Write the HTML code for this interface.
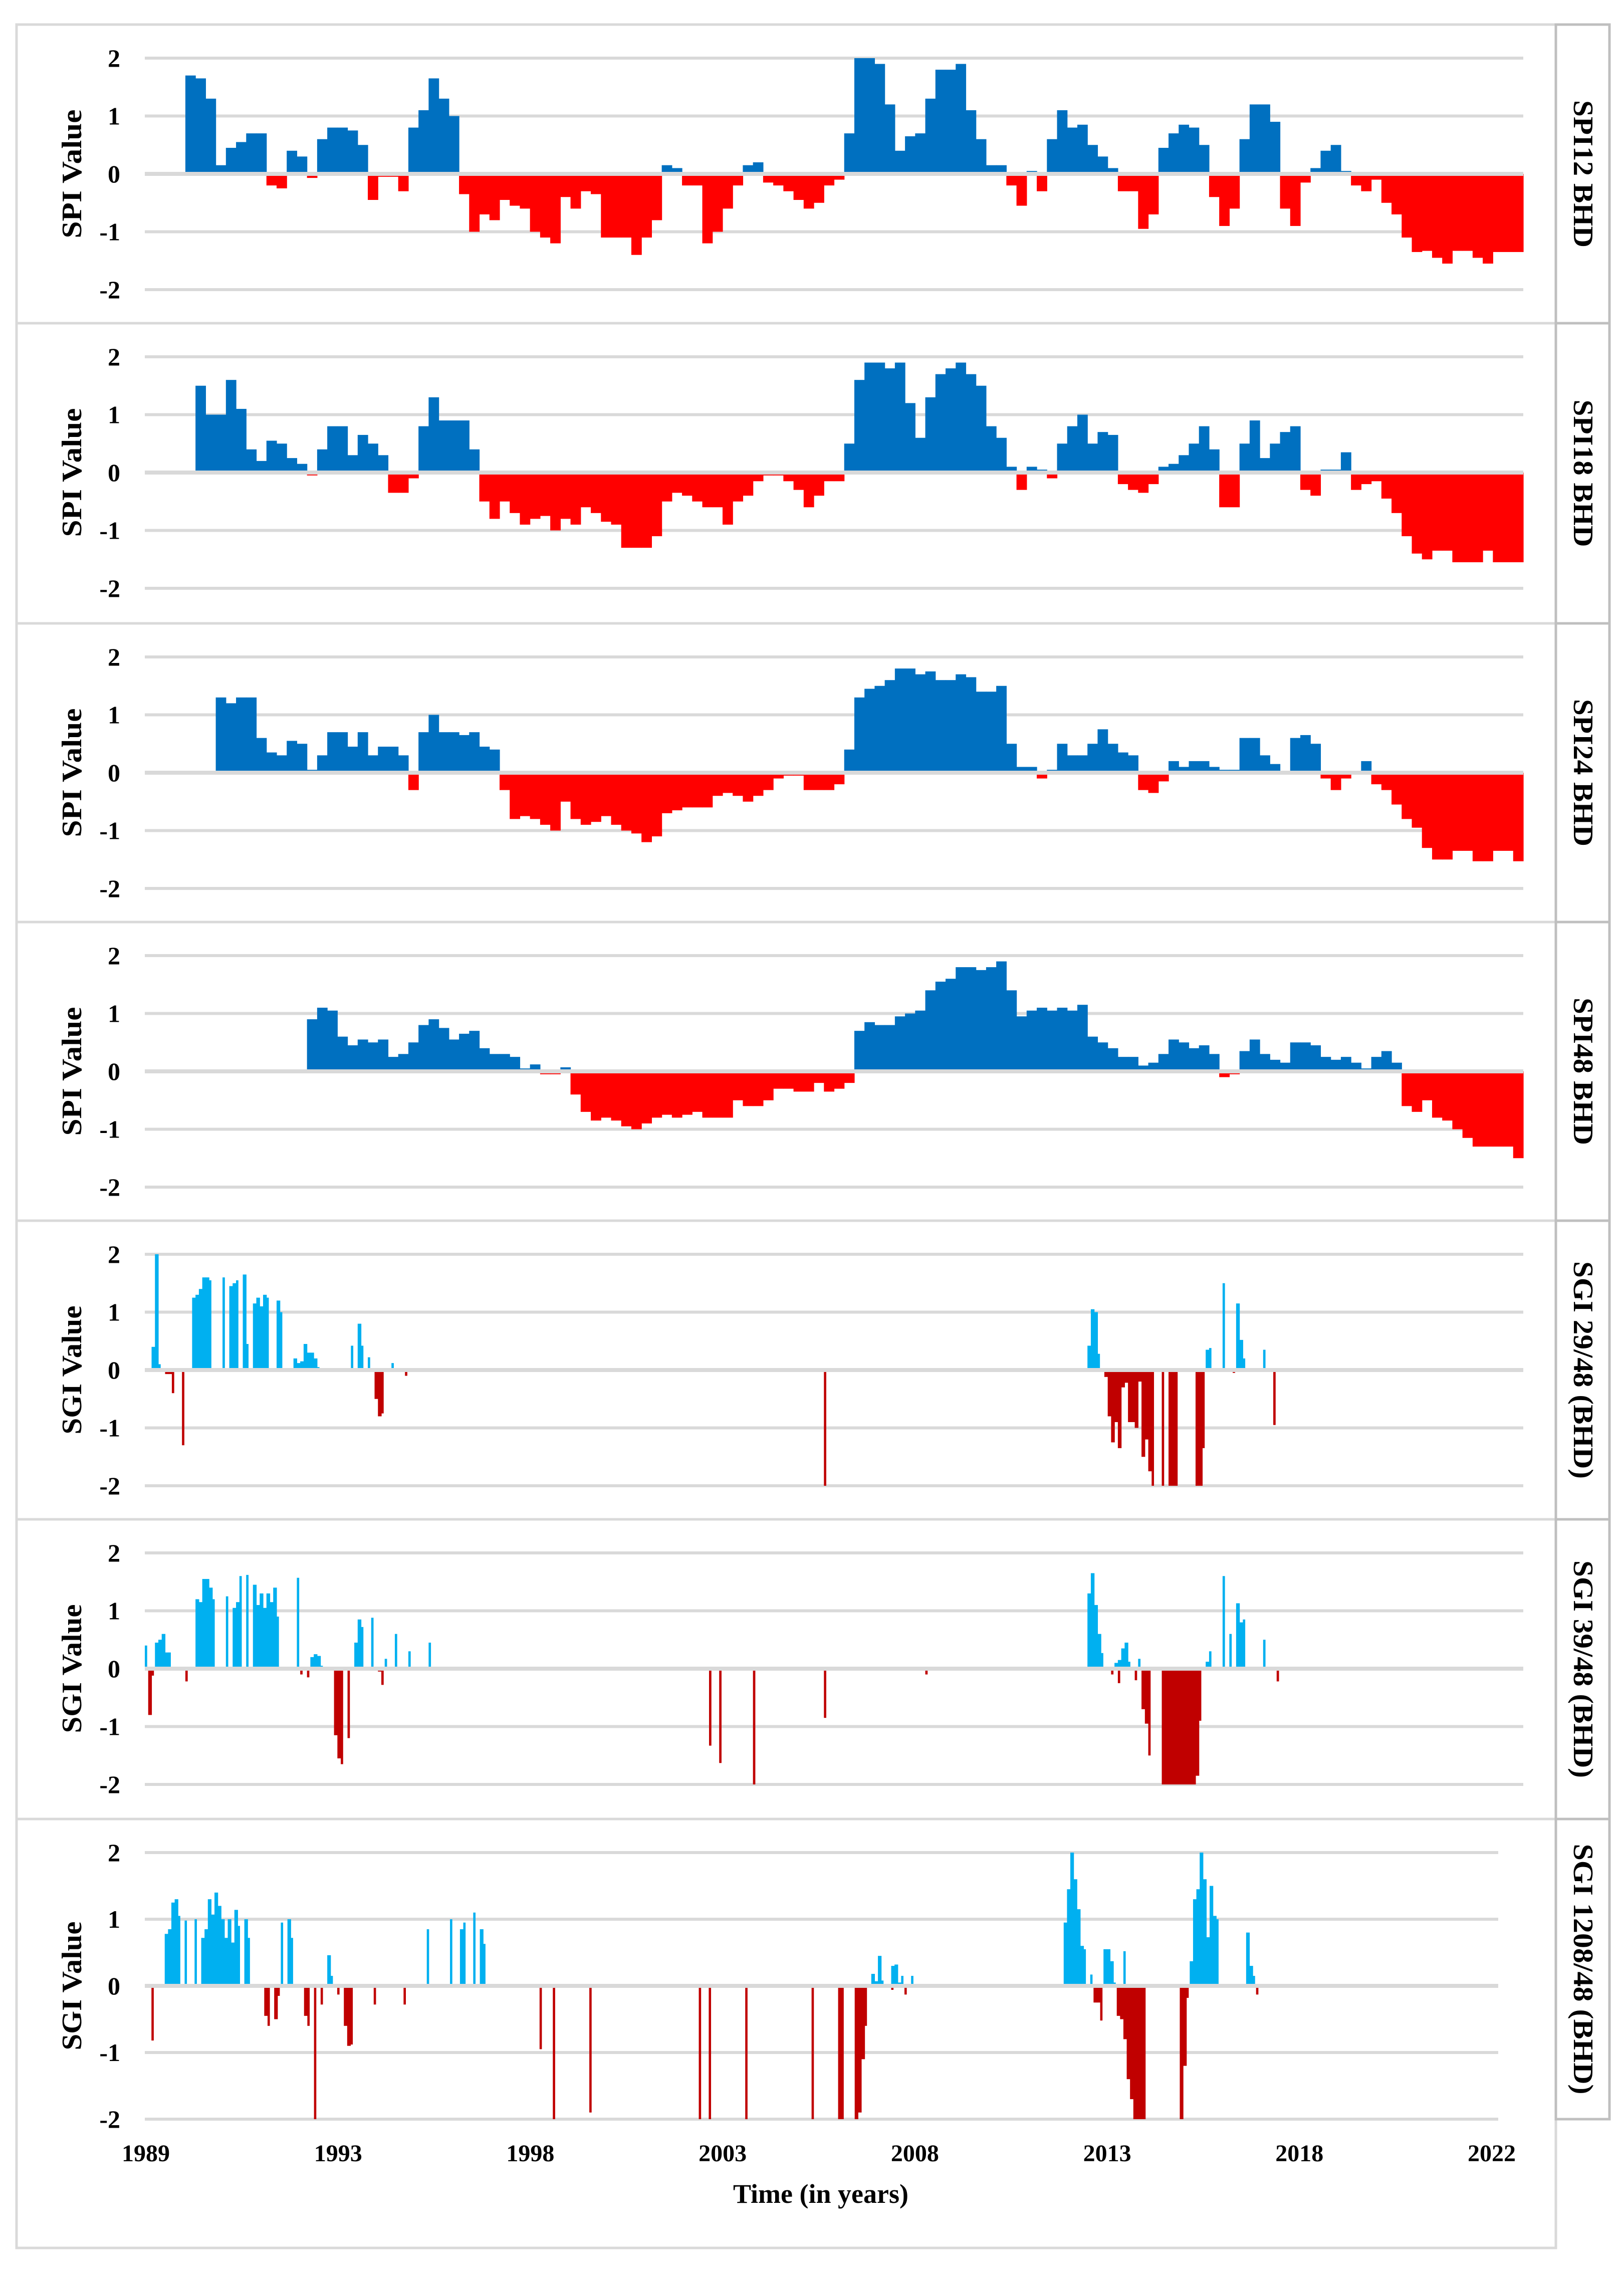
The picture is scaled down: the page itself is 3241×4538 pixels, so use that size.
<!DOCTYPE html>
<html><head><meta charset="utf-8"><title>SPI / SGI time series</title>
<style>
html,body{margin:0;padding:0;background:#fff;}
svg{display:block;}
text{font-family:"Liberation Serif","DejaVu Serif",serif;font-weight:bold;fill:#000;}
</style></head>
<body>
<svg id="chart" xmlns="http://www.w3.org/2000/svg" width="3241" height="4538" viewBox="0 0 3241 4538"></svg>
<script>
// ---- data ----
const xTickLabels = ["1989","1993","1998","2003","2008","2013","2018","2022"];
const yTicks = [2,1,0,-1,-2];
const panelLabels = ["SPI12 BHD","SPI18 BHD","SPI24 BHD","SPI48 BHD","SGI 29/48 (BHD)","SGI 39/48 (BHD)","SGI 1208/48 (BHD)"];
const yTitles = ["SPI Value","SPI Value","SPI Value","SPI Value","SGI Value","SGI Value","SGI Value"];
// SPI: quarterly values 1989Q1..2022Q4 (136)
const spi12 = [0,0,0,0,1.7,1.65,1.3,0.15,0.45,0.55,0.7,0.7,-0.2,-0.25,0.4,0.3,-0.07,0.6,0.8,0.8,0.75,0.5,-0.45,-0.05,-0.05,-0.3,0.8,1.1,1.65,1.3,1.0,-0.35,-1.0,-0.7,-0.8,-0.45,-0.55,-0.6,-1.0,-1.1,-1.2,-0.4,-0.6,-0.3,-0.35,-1.1,-1.1,-1.1,-1.4,-1.1,-0.8,0.15,0.1,-0.2,-0.2,-1.2,-1.0,-0.6,-0.2,0.15,0.2,-0.15,-0.2,-0.3,-0.45,-0.6,-0.5,-0.2,-0.1,0.7,2.0,2.0,1.9,1.2,0.4,0.65,0.7,1.3,1.8,1.8,1.9,1.1,0.6,0.15,0.15,-0.2,-0.55,0.05,-0.3,0.6,1.1,0.8,0.85,0.5,0.3,0.1,-0.3,-0.3,-0.95,-0.7,0.45,0.7,0.85,0.8,0.5,-0.4,-0.9,-0.6,0.6,1.2,1.2,0.9,-0.6,-0.9,-0.15,0.1,0.4,0.5,0.05,-0.2,-0.3,-0.1,-0.5,-0.7,-1.1,-1.35,-1.33,-1.45,-1.55,-1.33,-1.33,-1.45,-1.55,-1.35,-1.35,-1.35];
const spi18 = [0,0,0,0,0,1.5,1.0,1.0,1.6,1.1,0.4,0.2,0.55,0.5,0.25,0.15,-0.05,0.4,0.8,0.8,0.3,0.65,0.5,0.3,-0.35,-0.35,-0.1,0.8,1.3,0.9,0.9,0.9,0.4,-0.5,-0.8,-0.5,-0.7,-0.9,-0.8,-0.75,-1.0,-0.8,-0.9,-0.6,-0.7,-0.85,-0.9,-1.3,-1.3,-1.3,-1.1,-0.5,-0.35,-0.4,-0.5,-0.6,-0.6,-0.9,-0.5,-0.4,-0.15,-0.05,-0.05,-0.15,-0.3,-0.6,-0.4,-0.15,-0.15,0.5,1.6,1.9,1.9,1.8,1.9,1.2,0.6,1.3,1.7,1.8,1.9,1.7,1.5,0.8,0.6,0.1,-0.3,0.1,0.05,-0.1,0.5,0.8,1.0,0.5,0.7,0.65,-0.2,-0.3,-0.35,-0.2,0.1,0.15,0.3,0.5,0.8,0.4,-0.6,-0.6,0.5,0.9,0.25,0.5,0.7,0.8,-0.3,-0.4,0.05,0.05,0.35,-0.3,-0.2,-0.15,-0.45,-0.7,-1.1,-1.4,-1.5,-1.35,-1.35,-1.55,-1.55,-1.55,-1.35,-1.55,-1.55,-1.55];
const spi24 = [0,0,0,0,0,0,0,1.3,1.2,1.3,1.3,0.6,0.35,0.3,0.55,0.5,0.05,0.3,0.7,0.7,0.45,0.7,0.3,0.45,0.45,0.3,-0.3,0.7,1.0,0.7,0.7,0.65,0.7,0.45,0.4,-0.3,-0.8,-0.75,-0.8,-0.9,-1.0,-0.5,-0.8,-0.9,-0.85,-0.75,-0.9,-1.0,-1.05,-1.2,-1.1,-0.7,-0.65,-0.6,-0.6,-0.6,-0.4,-0.35,-0.4,-0.5,-0.4,-0.3,-0.1,-0.05,-0.05,-0.3,-0.3,-0.3,-0.2,0.4,1.3,1.45,1.5,1.6,1.8,1.8,1.7,1.75,1.6,1.6,1.7,1.65,1.4,1.4,1.5,0.5,0.1,0.1,-0.1,0.05,0.5,0.3,0.3,0.5,0.75,0.5,0.35,0.3,-0.3,-0.35,-0.15,0.2,0.1,0.2,0.2,0.1,0.05,0.05,0.6,0.6,0.3,0.15,0,0.6,0.65,0.5,-0.1,-0.3,-0.1,0.02,0.2,-0.2,-0.3,-0.55,-0.8,-0.95,-1.3,-1.5,-1.5,-1.35,-1.35,-1.53,-1.53,-1.35,-1.35,-1.53];
const spi48 = [0,0,0,0,0,0,0,0,0,0,0,0,0,0,0,0,0.9,1.1,1.05,0.6,0.45,0.55,0.5,0.55,0.25,0.3,0.5,0.8,0.9,0.75,0.55,0.65,0.7,0.4,0.3,0.3,0.25,0.05,0.12,-0.05,-0.05,0.07,-0.4,-0.7,-0.85,-0.8,-0.85,-0.95,-1.0,-0.9,-0.8,-0.75,-0.8,-0.75,-0.7,-0.8,-0.8,-0.8,-0.5,-0.6,-0.6,-0.5,-0.3,-0.3,-0.35,-0.35,-0.2,-0.35,-0.3,-0.2,0.7,0.85,0.8,0.8,0.95,1.0,1.05,1.4,1.55,1.6,1.8,1.8,1.75,1.8,1.9,1.4,0.95,1.05,1.1,1.05,1.1,1.05,1.15,0.6,0.5,0.4,0.25,0.25,0.1,0.15,0.3,0.55,0.5,0.4,0.45,0.3,-0.1,-0.05,0.35,0.55,0.3,0.2,0.15,0.5,0.5,0.45,0.25,0.2,0.25,0.15,0.05,0.25,0.35,0.15,-0.6,-0.7,-0.5,-0.8,-0.85,-1.0,-1.15,-1.3,-1.3,-1.3,-1.3,-1.5];
// SGI: sparse monthly values (month index 0 = Jan 1989, 408 months)
const sgi29Months = [2,3,4,14,15,16,17,18,19,23,25,26,27,29,30,32,33,34,35,36,39,40,44,45,46,47,48,49,50,51,61,63,64,66,73,6,7,8,11,68,69,70,77,201,279,280,281,282,284,285,286,287,288,289,290,291,292,293,294,295,296,297,298,301,303,304,305,311,312,313,314,315,319,323,324,325,331,322,334];
const sgi29Values = [0.4,2.0,0.1,1.25,1.3,1.4,1.6,1.6,1.55,1.6,1.45,1.5,1.55,1.65,0.45,1.15,1.25,1.1,1.3,1.25,1.2,1.0,0.2,0.12,0.15,0.45,0.3,0.3,0.2,0.05,0.42,0.8,0.42,0.22,0.12,-0.07,-0.07,-0.4,-1.3,-0.5,-0.8,-0.75,-0.1,-2.0,0.42,1.05,1.0,0.28,-0.12,-0.8,-1.25,-0.9,-1.35,-0.3,-0.22,-0.9,-0.9,-1.0,-0.2,-1.5,-1.2,-1.75,-2.0,-2.0,-2.0,-2.0,-2.0,-2.0,-2.0,-1.35,0.35,0.38,1.5,1.15,0.52,0.2,0.35,-0.05,-0.95];
const sgi39Months = [0,3,4,5,6,7,15,16,17,18,19,20,24,26,27,28,30,32,33,34,35,36,37,38,39,45,49,50,51,52,62,63,64,67,71,74,78,84,1,2,12,46,48,56,57,58,60,69,70,167,170,180,201,231,279,280,281,282,283,287,288,289,290,291,294,286,288,293,295,296,297,301,302,303,304,305,306,307,308,309,310,311,312,314,315,319,321,323,324,325,331,335];
const sgi39Values = [0.4,0.45,0.5,0.6,0.28,0.28,1.2,1.15,1.55,1.55,1.4,1.2,1.25,1.05,1.15,1.6,1.62,1.45,1.1,1.3,1.05,1.3,1.15,1.4,0.9,1.57,0.2,0.25,0.22,0.05,0.45,0.85,0.72,0.88,0.17,0.6,0.3,0.45,-0.8,-0.12,-0.22,-0.1,-0.15,-1.15,-1.55,-1.65,-1.2,-0.05,-0.28,-1.33,-1.63,-2.0,-0.85,-0.1,1.3,1.65,1.1,0.6,0.27,0.1,0.15,0.35,0.45,0.12,0.17,-0.1,-0.25,-0.2,-0.7,-0.95,-1.5,-2.0,-2.0,-2.0,-2.0,-2.0,-2.0,-2.0,-2.0,-2.0,-2.0,-1.85,-0.9,0.12,0.3,1.6,0.6,1.13,0.8,0.85,0.5,-0.22];
const sgi1208Months = [6,7,8,9,10,12,15,17,18,19,20,21,22,23,24,25,26,27,28,30,31,41,43,44,55,56,85,92,95,96,99,101,102,219,220,221,222,225,226,227,228,231,277,278,279,280,281,282,283,285,289,290,291,292,295,315,316,317,318,319,320,321,322,323,332,333,334,2,36,37,39,40,48,49,51,53,58,60,61,62,69,78,119,123,134,167,170,181,201,209,210,214,215,216,217,225,229,286,287,288,293,294,295,296,297,298,299,300,301,312,313,314,335];
const sgi1208Values = [0.78,0.85,1.25,1.3,1.05,0.98,1.0,0.72,0.85,1.3,1.07,1.4,1.2,1.0,0.72,1.0,0.65,1.14,0.9,1.0,0.72,0.95,1.0,0.72,0.46,0.15,0.85,1.0,0.85,0.95,1.1,0.85,0.63,0.18,0.07,0.45,0.08,0.3,0.32,0.05,0.15,0.15,0.95,1.45,2.0,1.6,1.15,0.6,0.55,0.17,0.55,0.55,0.37,0.05,0.52,0.37,1.3,1.45,2.0,1.6,0.73,1.5,1.05,1.0,0.8,0.3,0.15,-0.82,-0.45,-0.6,-0.5,-0.15,-0.45,-0.6,-2.0,-0.28,-0.13,-0.6,-0.9,-0.88,-0.28,-0.28,-0.95,-2.0,-1.9,-2.0,-2.0,-2.0,-2.0,-2.0,-2.0,-2.0,-1.9,-1.1,-0.6,-0.06,-0.13,-0.25,-0.25,-0.52,-0.45,-0.5,-0.8,-1.4,-1.7,-2.0,-2.0,-2.0,-2.0,-2.0,-1.2,-0.18,-0.13];

// ---- layout ----
const NS = "http://www.w3.org/2000/svg";
const svg = document.getElementById("chart");
function mk(tag, attrs, parent){
  const e = document.createElementNS(NS, tag);
  for (const k in attrs) e.setAttribute(k, attrs[k]);
  (parent||svg).appendChild(e);
  return e;
}
const panels = [
  {top:49, bottom:645, unit:115.5, zero:347, x0:289, x1:3040, kind:"spi", data:spi12},
  {top:645, bottom:1244, unit:115.5, zero:943, x0:289, x1:3040, kind:"spi", data:spi18},
  {top:1244, bottom:1840, unit:115.5, zero:1542, x0:289, x1:3040, kind:"spi", data:spi24},
  {top:1840, bottom:2436, unit:115.5, zero:2138, x0:289, x1:3040, kind:"spi", data:spi48},
  {top:2436, bottom:3032, unit:115.5, zero:2734, x0:289, x1:3040, kind:"sgi", months:sgi29Months, vals:sgi29Values},
  {top:3032, bottom:3630, unit:115.5, zero:3330, x0:289, x1:3040, kind:"sgi", months:sgi39Months, vals:sgi39Values},
  {top:3630, bottom:4486, unit:133, zero:3963, x0:289, x1:2990, kind:"sgi", months:sgi1208Months, vals:sgi1208Values, rightBottom:4229}
];

panels.forEach((p, pi) => {
  const g = mk("g", {});
  
  
  const fr = mk("rect", {x:33, y:p.top, width:3072, height:p.bottom-p.top, fill:"none", stroke:"#d9d9d9", "stroke-width":5}, g);
  
  
  const rb = mk("rect", {x:3105, y:p.top, width:107, height:(p.rightBottom||p.bottom)-p.top, fill:"#fff", stroke:"#bfbfbf", "stroke-width":5}, g);
  
  
  const yScale = v => p.zero - v * p.unit;
  yTicks.forEach(t => {
    const yy = yScale(t);
    if (t !== 0) {
      const gl = mk("rect", {x:p.x0, y:(yy-3).toFixed(1), width:p.x1-p.x0, height:6, fill:"#d9d9d9"}, g);
      
      
    }
    const tl = mk("text", {x:240, y:(yy+17).toFixed(1), "text-anchor":"end", "font-size":50}, g);
    tl.textContent = String(t);
    
    
  });
  if (p.kind === "spi") {
    const n = p.data.length;
    const w = (p.x1 - p.x0) / n;
    p.data.forEach((v, i) => {
      if (v === 0) return;
      const y = Math.min(yScale(v), p.zero), h = Math.abs(yScale(v) - p.zero);
      const r = mk("rect", {x:(p.x0 + i*w).toFixed(2), y:y.toFixed(2), width:(w+0.6).toFixed(2), height:h.toFixed(2), fill: v > 0 ? "#0070c0" : "#ff0000"}, g);
      
      
    });
  } else {
    const mw = (p.x1 - p.x0) / 408;
    p.months.forEach((m, i) => {
      const v = p.vals[i];
      let joined = false;
      p.months.forEach((m2, j) => { if (m2 === m + 1 && Math.sign(p.vals[j]) === Math.sign(v)) joined = true; });
      const bw = joined ? mw + 0.6 : mw * 0.7;
      const y = Math.min(yScale(v), p.zero), h = Math.abs(yScale(v) - p.zero);
      const r = mk("rect", {x:(p.x0 + m*mw).toFixed(2), y:y.toFixed(2), width:bw.toFixed(2), height:h.toFixed(2), fill: v > 0 ? "#00b0f0" : "#c00000"}, g);
      
      
    });
  }
  const zl = mk("rect", {x:p.x0, y:(p.zero-4).toFixed(1), width:p.x1-p.x0, height:8, fill:"#d9d9d9"}, g);
  
  
  const yt = mk("text", {x:0, y:0, transform:"translate(162," + p.zero + ") rotate(-90)", "text-anchor":"middle", "font-size":56, textLength:257, lengthAdjust:"spacingAndGlyphs"}, g);
  yt.textContent = yTitles[pi];
  
  
  const rbot = (p.rightBottom||p.bottom);
  const lc = (p.top + rbot) / 2;
  const len = panelLabels[pi].length > 12 ? (pi===6 ? 500 : 434) : 294;
  const rl = mk("text", {x:0, y:0, transform:"translate(3141," + lc + ") rotate(90)", "text-anchor":"middle", "font-size":56, textLength:len, lengthAdjust:"spacingAndGlyphs"}, g);
  rl.textContent = panelLabels[pi];
  
  
});

xTickLabels.forEach((lab, i) => {
  const x = 291 + i * (2977 - 291) / (xTickLabels.length - 1);
  const t = mk("text", {x:x.toFixed(1), y:4313, "text-anchor":"middle", "font-size":48});
  t.textContent = lab;
  
  
});
const xt = mk("text", {x:1638, y:4396, "text-anchor":"middle", "font-size":54});
xt.textContent = "Time (in years)";


</script>
</body></html>
